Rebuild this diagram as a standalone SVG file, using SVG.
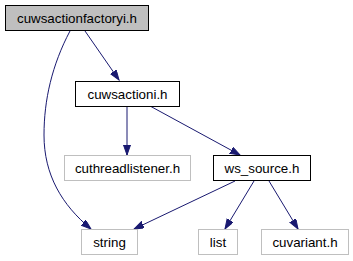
<svg xmlns="http://www.w3.org/2000/svg" width="353" height="261" viewBox="0 0 353 261">
  <style>
    .node rect { stroke-width: 1; }
    .cur rect { fill: #bfbfbf; stroke: #000000; }
    .doc rect { fill: #ffffff; stroke: #000000; }
    .ext rect { fill: #ffffff; stroke: #bfbfbf; }
    .node text { font-family: "Liberation Sans", Arial, sans-serif; font-size: 13.33px; fill: #000000; text-anchor: middle; }
    .edges path { fill: none; stroke: #191970; stroke-width: 1; marker-end: url(#arrow); }
  </style>
  <defs>
    <marker id="arrow" markerUnits="userSpaceOnUse" markerWidth="11" markerHeight="8" refX="10" refY="3.5" orient="auto">
      <path d="M0,0 L10,3.5 L0,7 Z" fill="#191970" stroke="#191970" stroke-width="1"/>
    </marker>
  </defs>
  <rect width="353" height="261" fill="#ffffff"/>

  <g class="edges">
    <path d="M85,31 L119,80"/>
    <path d="M70,31 C52,65 44,100 44,135 C44,175 62,205 91,229"/>
    <path d="M127,106 L127,155"/>
    <path d="M150,106 L240,155"/>
    <path d="M235,181 L134,229"/>
    <path d="M254,181 L225,229"/>
    <path d="M269,181 L298,229"/>
  </g>

  <g id="cuwsactionfactoryi" class="node cur">
    <rect x="5.5" y="5.5" width="143" height="25"/>
    <text x="77" y="22.5">cuwsactionfactoryi.h</text>
  </g>
  <g id="cuwsactioni" class="node doc">
    <rect x="75.5" y="81.5" width="104" height="25"/>
    <text x="127.5" y="98.5">cuwsactioni.h</text>
  </g>
  <g id="cuthreadlistener" class="node ext">
    <rect x="64.5" y="155.5" width="126" height="25"/>
    <text x="127.5" y="172.5">cuthreadlistener.h</text>
  </g>
  <g id="ws_source" class="node doc">
    <rect x="213.5" y="155.5" width="97" height="25"/>
    <text x="262" y="172.5">ws_source.h</text>
  </g>
  <g id="string" class="node ext">
    <rect x="81.5" y="229.5" width="56" height="25"/>
    <text x="109.5" y="246.5">string</text>
  </g>
  <g id="list" class="node ext">
    <rect x="198.5" y="229.5" width="39" height="25"/>
    <text x="218" y="246.5">list</text>
  </g>
  <g id="cuvariant" class="node ext">
    <rect x="261.5" y="229.5" width="87" height="25"/>
    <text x="305" y="246.5">cuvariant.h</text>
  </g>
</svg>
